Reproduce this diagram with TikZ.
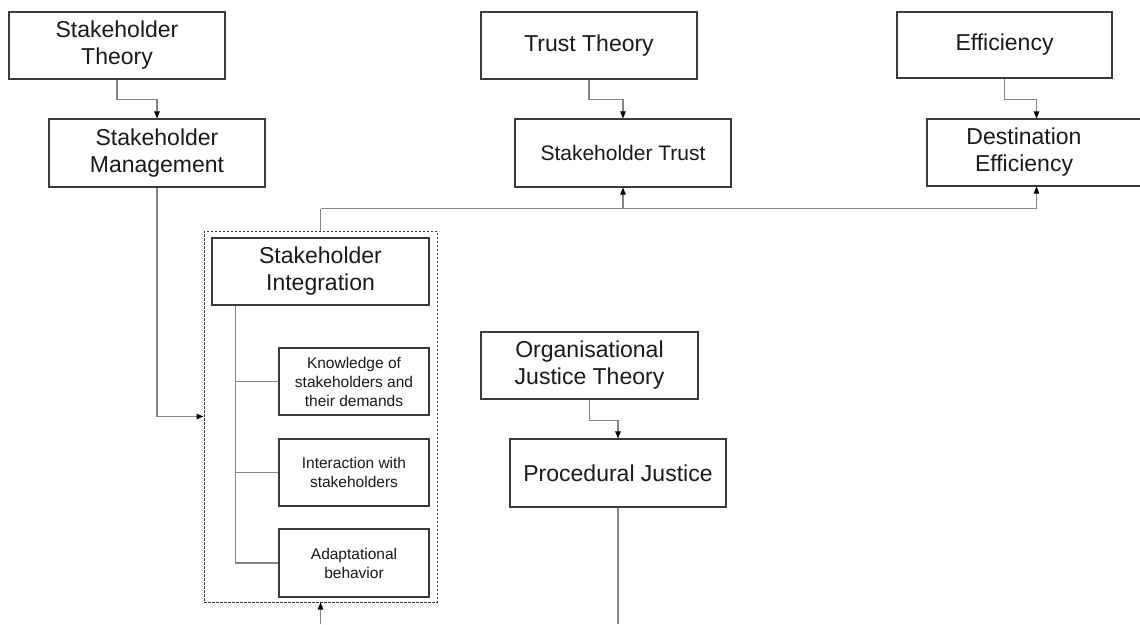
\documentclass[tikz,border=0pt]{standalone}
\usepackage{fontspec}
\setmainfont{Liberation Sans}
\usetikzlibrary{arrows.meta,positioning}

\definecolor{boxline}{HTML}{3A3A3A}
\definecolor{connline}{HTML}{858585}
\definecolor{txt}{HTML}{1A1A1A}

\tikzset{
  box/.style={draw=boxline, line width=1.1pt, fill=white, inner sep=0pt,
              align=center, text=txt},
  bigbox/.style={box, minimum width=216pt, minimum height=67pt,
                 font=\fontsize{23}{27}\selectfont},
  midbox/.style={box, minimum width=216pt, minimum height=68pt,
                 font=\fontsize{21}{25}\selectfont},
  subbox/.style={box, minimum width=150pt, minimum height=67pt,
                 font=\fontsize{15.5}{19}\selectfont},
  groupbox/.style={draw=boxline, line width=1pt, dash pattern=on 2.5pt off 1.5pt,
                   inner sep=0pt},
  conn/.style={draw=connline, line width=1.1pt},
  arr/.style={conn, -{Triangle[length=7pt,width=5.5pt]}, arrows={[fill=black,color=black]}},
}

\begin{document}
\begin{tikzpicture}[x=1pt,y=-1pt]
  \useasboundingbox (0,0) rectangle (1140,624);

  % theory boxes in the top row
  \node[bigbox] (st)  at (117,45.5)  {Stakeholder\\Theory};
  \node[bigbox] (tt)  at (589,45.5)  {Trust Theory};
  \node[bigbox, minimum width=215pt, minimum height=66pt] (eff) at (1004.5,45) {Efficiency};

  % derived constructs
  \node[bigbox, minimum height=68pt] (sm) at (157,153) {Stakeholder\\Management};
  \node[midbox] (strust) at (623,153) {Stakeholder Trust};
  \node[box, minimum width=219pt, minimum height=67pt] (de) at (1036.5,152.5) {};
  \node[align=center, text=txt, font=\fontsize{23}{27}\selectfont, inner sep=0pt]
       (detext) at (1024,152.5) {Destination\\Efficiency};

  % organisational justice branch
  \node[bigbox, minimum width=217pt] (ojt) at (589.5,365.5) {Organisational\\Justice Theory};
  \node[bigbox, minimum height=68pt] (pj) at (618,473) {Procedural Justice};

  % stakeholder integration group
  \node[groupbox, minimum width=233pt, minimum height=371pt] (grp) at (320.5,416.5) {};
  \node[bigbox, minimum width=217pt] (si) at (320.5,271.5) {Stakeholder\\Integration};
  \node[subbox] (k) at (354,381.5) {Knowledge of\\stakeholders and\\their demands};
  \node[subbox] (i) at (354,472.5) {Interaction with\\stakeholders};
  \node[subbox, minimum height=68pt] (a) at (354,563) {Adaptational\\behavior};

  % tree inside the group
  \coordinate (root) at ([xshift=24pt]si.south west);
  \draw[conn] (root) |- (k.west);
  \draw[conn] (root) |- (i.west);
  \draw[conn] (root) |- (a.west);

  % theory -> construct links
  \draw[arr] (st.south) -- ++(0,20) -| (sm.north);
  \draw[arr] (tt.south) -- ++(0,20) -| (strust.north);
  \draw[arr] (eff.south) -- ++(0,21) -| (de.north);
  \draw[arr] (ojt.south) -- ++(0,21) -| (pj.north);

  % management feeds integration
  \draw[arr] (sm.south) |- (grp.west);

  % integration feeds trust and efficiency
  \coordinate (bus) at ([yshift=22pt]grp.north);
  \draw[conn] (grp.north) -- (bus);
  \draw[arr] (bus) -| (strust.south);
  \draw[arr] (bus) -| (de.south);

  % lines leaving the lower edge
  \coordinate (bin) at (grp.south |- 0,624);
  \draw[arr] (bin) -- (grp.south);
  \coordinate (pjout) at (pj.south |- 0,624);
  \draw[conn] (pj.south) -- (pjout);
\end{tikzpicture}
\end{document}
